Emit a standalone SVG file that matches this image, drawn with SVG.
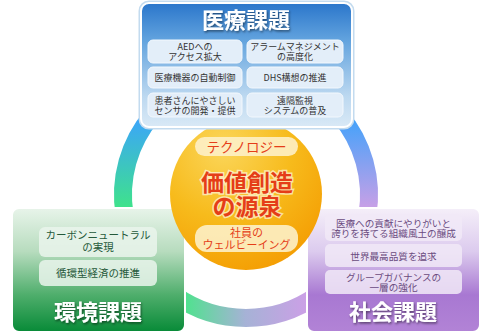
<svg xmlns="http://www.w3.org/2000/svg" width="500" height="335" viewBox="0 0 500 335">
<defs>
<linearGradient id="gMed" x1="0" y1="0" x2="0" y2="1">
<stop offset="0" stop-color="#2a76cb"/><stop offset="0.3" stop-color="#62a3de"/><stop offset="0.75" stop-color="#bcd8f0"/><stop offset="1" stop-color="#d9e9f6"/>
</linearGradient>
<linearGradient id="gEnv" x1="0" y1="0" x2="0" y2="1">
<stop offset="0" stop-color="#e8f4ea"/><stop offset="0.35" stop-color="#b7dcbe"/><stop offset="0.7" stop-color="#4fae6c"/><stop offset="1" stop-color="#078a37"/>
</linearGradient>
<linearGradient id="gSoc" x1="0" y1="0" x2="0" y2="1">
<stop offset="0" stop-color="#f5eff9"/><stop offset="0.35" stop-color="#dccbee"/><stop offset="0.7" stop-color="#a878d2"/><stop offset="1" stop-color="#b283d6"/>
</linearGradient>
<linearGradient id="gL" gradientUnits="userSpaceOnUse" x1="0" y1="120" x2="0" y2="210">
<stop offset="0" stop-color="#3ba6f8"/><stop offset="1" stop-color="#3fe488"/>
</linearGradient>
<linearGradient id="gR" gradientUnits="userSpaceOnUse" x1="0" y1="120" x2="0" y2="210">
<stop offset="0" stop-color="#45a2fa"/><stop offset="1" stop-color="#cba0e6"/>
</linearGradient>
<linearGradient id="gB" gradientUnits="userSpaceOnUse" x1="185" y1="0" x2="306" y2="0">
<stop offset="0" stop-color="#4fe28e"/><stop offset="0.5" stop-color="#a6b2d6"/><stop offset="1" stop-color="#cba0e6"/>
</linearGradient>
<radialGradient id="gCore" cx="0.35" cy="0.2" r="0.9">
<stop offset="0" stop-color="#fbd65a"/><stop offset="0.5" stop-color="#f7bb1c"/><stop offset="1" stop-color="#f49a00"/>
</radialGradient>
<filter id="sh" x="-10%" y="-20%" width="130%" height="150%">
<feDropShadow dx="1" dy="1.5" stdDeviation="1" flood-color="#000" flood-opacity="0.5"/>
</filter>
</defs>
<style>
.jp{font-family:"Noto Sans CJK JP","Noto Sans",sans-serif;text-anchor:middle}
.title{font-size:22px;font-weight:bold;fill:#fff}
.mi{fill:#e3eef9;stroke:#f3f8fd;stroke-width:1}
.mt{font-size:9px;fill:#333}
.ei{fill:#eaf4ec;fill-opacity:0.85}
.et{font-size:10.5px;fill:#25593a}
.si{fill:#f1e9f7;fill-opacity:0.85}
.st{font-size:9.6px;fill:#6a4b80}
.pill{fill:#fdf0c6;fill-opacity:0.9}
.red{fill:#e53d18}
.ring{fill:none;stroke-width:18}
</style>
<g id="connectors">
<path class="ring" stroke="url(#gL)" d="M152.5,115 A123,123 0 0 0 124.6,215"/>
<path class="ring" stroke="url(#gR)" d="M339.5,115 A123,123 0 0 1 367.4,215"/>
<path class="ring" stroke="url(#gB)" d="M175,295.4 A123,123 0 0 0 317,295.4"/>
</g>
<g id="env">
<rect x="12" y="208" width="173" height="124" rx="7" fill="url(#gEnv)" stroke="#fff" stroke-width="2"/>
<rect class="ei" x="39" y="227" width="118" height="30" rx="6"/>
<rect class="ei" x="39" y="260" width="118" height="26" rx="6"/>
<text class="jp et" x="98" y="239">カーボンニュートラル</text>
<text class="jp et" x="98" y="251">の実現</text>
<text class="jp et" x="98" y="277">循環型経済の推進</text>
<text class="jp title" x="98" y="320" filter="url(#sh)">環境課題</text>
</g>
<g id="soc">
<rect x="307" y="208" width="173" height="124" rx="7" fill="url(#gSoc)" stroke="#fff" stroke-width="2"/>
<rect class="si" x="325" y="214" width="137" height="27" rx="5"/>
<rect class="si" x="325" y="244" width="137" height="23" rx="5"/>
<rect class="si" x="325" y="270" width="137" height="24" rx="5"/>
<text class="jp st" x="393.5" y="227">医療への貢献にやりがいと</text>
<text class="jp st" x="393.5" y="237">誇りを持てる組織風土の醸成</text>
<text class="jp st" x="393.5" y="260">世界最高品質を追求</text>
<text class="jp st" x="393.5" y="281">グループガバナンスの</text>
<text class="jp st" x="393.5" y="291">一層の強化</text>
<text class="jp title" x="393" y="320" filter="url(#sh)">社会課題</text>
</g>
<g id="core">
<circle cx="246" cy="194" r="76" fill="url(#gCore)"/>
<rect class="pill" x="195" y="137" width="103" height="19" rx="9.5"/>
<text class="jp red" x="246.5" y="152" font-size="13.5">テクノロジー</text>
<text class="jp red" x="247" y="191" font-size="23" font-weight="bold" stroke="#fff" stroke-width="3" stroke-opacity="0.6" paint-order="stroke">価値創造</text>
<text class="jp red" x="247" y="215" font-size="23" font-weight="bold" stroke="#fff" stroke-width="3" stroke-opacity="0.6" paint-order="stroke">の源泉</text>
<rect class="pill" x="195" y="225" width="103" height="27" rx="12"/>
<text class="jp red" x="246.5" y="237" font-size="11">社員の</text>
<text class="jp red" x="246.5" y="249" font-size="11">ウェルビーイング</text>
</g>
<g id="med">
<rect x="141" y="3" width="211" height="124" rx="8" fill="none" stroke="#c3dbef" stroke-width="5"/>
<rect x="141" y="3" width="211" height="124" rx="8" fill="url(#gMed)" stroke="#fff" stroke-width="2"/>
<text class="jp title" x="246" y="28" filter="url(#sh)">医療課題</text>
<rect class="mi" x="148" y="40" width="94" height="23" rx="5"/>
<rect class="mi" x="247" y="40" width="96" height="23" rx="5"/>
<rect class="mi" x="148" y="67" width="94" height="21" rx="5"/>
<rect class="mi" x="247" y="67" width="96" height="21" rx="5"/>
<rect class="mi" x="148" y="93" width="94" height="24" rx="5"/>
<rect class="mi" x="247" y="93" width="96" height="24" rx="5"/>
<text class="jp mt" x="195" y="50">AEDへの</text>
<text class="jp mt" x="195" y="60">アクセス拡大</text>
<text class="jp mt" x="295" y="50">アラームマネジメント</text>
<text class="jp mt" x="295" y="60">の高度化</text>
<text class="jp mt" x="195" y="81">医療機器の自動制御</text>
<text class="jp mt" x="295" y="81">DHS構想の推進</text>
<text class="jp mt" x="195" y="104">患者さんにやさしい</text>
<text class="jp mt" x="195" y="114">センサの開発・提供</text>
<text class="jp mt" x="295" y="104">遠隔監視</text>
<text class="jp mt" x="295" y="114">システムの普及</text>
</g>
</svg>
